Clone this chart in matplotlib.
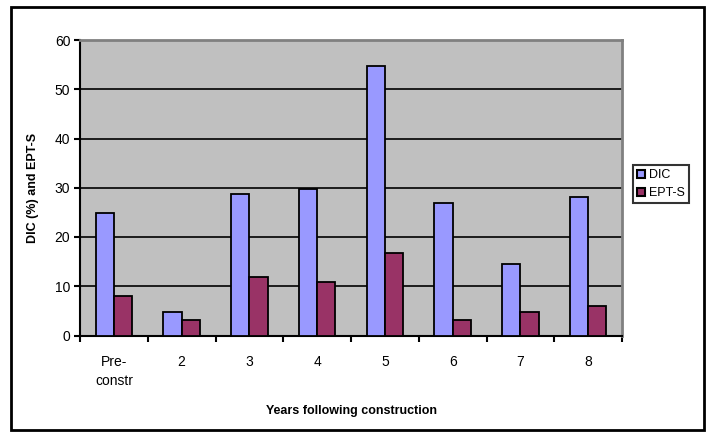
import matplotlib
matplotlib.use("Agg")
import matplotlib.pyplot as plt
import numpy as np
from matplotlib.patches import Rectangle, Patch

plt.rcParams['font.family'] = ['Liberation Sans', 'DejaVu Sans']

categories = ["Pre-\nconstr", "2", "3", "4", "5", "6", "7", "8"]
dic = [24.8, 4.7, 28.7, 29.7, 54.7, 27.0, 14.5, 28.1]
ept_s = [8.0, 3.1, 11.8, 10.8, 16.8, 3.1, 4.7, 5.9]

dic_color = "#9999FF"
ept_color = "#993366"

fig = plt.figure(figsize=(7.08, 4.32), dpi=100)
ax = fig.add_axes([80 / 708, 1 - 335.5 / 432, 542 / 708, 295.5 / 432])
ax.set_facecolor("#C0C0C0")

x = np.arange(len(categories))
w = 0.27
ax.bar(x - w / 2, dic, w, color=dic_color, edgecolor="black", linewidth=1.3,
       label="DIC", zorder=3)
ax.bar(x + w / 2, ept_s, w, color=ept_color, edgecolor="black", linewidth=1.3,
       label="EPT-S", zorder=3)

ax.set_xlim(-0.5, len(categories) - 0.5)
ax.set_ylim(0, 60)
ax.set_yticks(range(0, 61, 10))
ax.yaxis.grid(True, color="black", linewidth=1.2, zorder=1)
ax.set_axisbelow(True)

# category labels centred, tick marks on the boundaries
ax.set_xticks(x)
ax.set_xticklabels(categories, fontsize=10, linespacing=1.5, va="top")
ax.set_xticks(np.arange(-0.5, len(categories), 1), minor=True)
ax.tick_params(axis="x", which="major", length=0, pad=14)
ax.tick_params(axis="x", which="minor", length=4, width=1.5, direction="out")
ax.tick_params(axis="y", length=4, width=1.5, direction="out", labelsize=10, pad=3)

for side in ("left", "bottom"):
    ax.spines[side].set_linewidth(1.5)
    ax.spines[side].set_color("black")
for side in ("top", "right"):
    ax.spines[side].set_linewidth(2)
    ax.spines[side].set_color("#808080")

ax.set_ylabel("DIC (%) and EPT-S", fontsize=9, fontweight="bold", labelpad=11)
ax.set_xlabel("Years following construction", fontsize=9, fontweight="bold",
              labelpad=12)

handles = [Patch(facecolor=dic_color, edgecolor="black", linewidth=1.5, label="DIC"),
           Patch(facecolor=ept_color, edgecolor="black", linewidth=1.5, label="EPT-S")]
leg = fig.legend(handles=handles, loc="upper left",
                 bbox_to_anchor=(633 / 708, 1 - 165 / 432),
                 fontsize=9, frameon=True, fancybox=False, borderpad=0.35,
                 handlelength=0.6, handleheight=0.6, handletextpad=0.3,
                 labelspacing=0.45, borderaxespad=0)
leg.get_frame().set_edgecolor("black")
leg.get_frame().set_linewidth(1.5)

# outer chart frame
fig.patches.append(Rectangle((11 / 708, 2 / 432), 693 / 708, 423 / 432,
                             transform=fig.transFigure, fill=False,
                             edgecolor="black", linewidth=2))

fig.savefig("out.png", dpi=100)
